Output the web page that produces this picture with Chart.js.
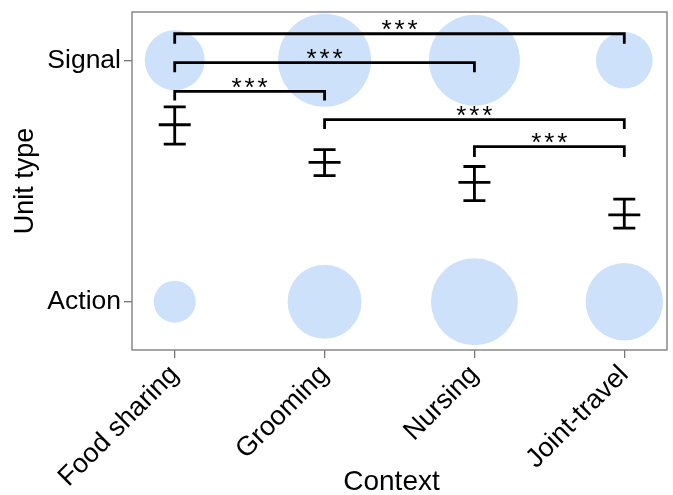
<!DOCTYPE html>
<html>
<head>
<meta charset="utf-8">
<script src="https://cdn.jsdelivr.net/npm/chart.js@4/dist/chart.umd.min.js"></script>
<style>
  html, body { margin: 0; padding: 0; background: #fff; }
  #wrap { width: 673px; height: 495px; }
</style>
</head>
<body>
<div id="wrap"><canvas id="chart" width="673" height="495"></canvas></div>
<script>
// Contexts along the x axis and unit types along the y axis (Action = 0, Signal = 1)
const contexts = ['Food sharing', 'Grooming', 'Nursing', 'Joint-travel'];
const unitTypes = ['Action', 'Signal'];

// Bubble sizes (radius, px) for each context
const signalSize = [30, 46.5, 45.5, 28.3];
const actionSize = [21, 37, 43.5, 38.7];

// Mean position with lower / upper error limits per context
const meanValue  = [0.733, 0.577, 0.494, 0.360];
const lowerValue = [0.653, 0.522, 0.419, 0.305];
const upperValue = [0.807, 0.630, 0.560, 0.425];

// Pairwise comparisons: from / to context index, bar height, leg tip, label
const bracketFrom  = [0, 0, 0, 1, 2];
const bracketTo    = [3, 2, 1, 3, 3];
const bracketTop   = [1.110, 0.990, 0.871, 0.754, 0.642];
const bracketTip   = [1.069, 0.950, 0.833, 0.715, 0.599];
const bracketLabel = ['***', '***', '***', '***', '***'];

const FONT = "'Liberation Sans', Arial, sans-serif";
Chart.defaults.font.family = FONT;
Chart.defaults.color = '#000';

const bubbleColor = 'rgb(206,225,251)';

const datasets = [];

// comparison brackets
bracketFrom.forEach((f, i) => {
  const t = bracketTo[i];
  datasets.push({
    type: 'line',
    data: [
      { x: f, y: bracketTip[i] },
      { x: f, y: bracketTop[i] },
      { x: t, y: bracketTop[i] },
      { x: t, y: bracketTip[i] }
    ],
    borderColor: '#000',
    borderWidth: 2.8,
    borderJoinStyle: 'miter',
    borderCapStyle: 'butt',
    pointRadius: 0,
    fill: false,
    tension: 0,
    clip: false,
    order: 0
  });
});

// bubbles for signal and action rows
datasets.push({
  type: 'bubble',
  data: contexts.map((c, i) => ({ x: i, y: 1, r: signalSize[i] })),
  backgroundColor: bubbleColor,
  borderWidth: 0,
  hoverRadius: 0,
  clip: false,
  order: 10
});
datasets.push({
  type: 'bubble',
  data: contexts.map((c, i) => ({ x: i, y: 0, r: actionSize[i] })),
  backgroundColor: bubbleColor,
  borderWidth: 0,
  hoverRadius: 0,
  clip: false,
  order: 10
});

// Frame, error bars, significance labels and x-axis title
const overlay = {
  id: 'overlay',
  afterDatasetsDraw(chart) {
    const { ctx, chartArea: a, scales: { x, y } } = chart;
    ctx.save();
    // error bars
    ctx.strokeStyle = '#000';
    ctx.lineWidth = 2.8;
    ctx.lineCap = 'butt';
    meanValue.forEach((m, i) => {
      const px = x.getPixelForValue(i);
      const lo = y.getPixelForValue(lowerValue[i]);
      const hi = y.getPixelForValue(upperValue[i]);
      const mid = y.getPixelForValue(m);
      ctx.beginPath();
      ctx.moveTo(px, lo); ctx.lineTo(px, hi);
      ctx.moveTo(px - 11, lo); ctx.lineTo(px + 11, lo);
      ctx.moveTo(px - 11, hi); ctx.lineTo(px + 11, hi);
      ctx.moveTo(px - 16, mid); ctx.lineTo(px + 16, mid);
      ctx.stroke();
    });
    // significance stars
    ctx.fillStyle = '#000';
    ctx.font = "26px " + FONT;
    ctx.textAlign = 'center';
    ctx.textBaseline = 'alphabetic';
    bracketLabel.forEach((lab, i) => {
      const cx = (x.getPixelForValue(bracketFrom[i]) + x.getPixelForValue(bracketTo[i])) / 2;
      const ty = y.getPixelForValue(bracketTop[i]);
      const chars = lab.split('');
      chars.forEach((ch, k) => {
        ctx.fillText(ch, cx + (k - (chars.length - 1) / 2) * 13, ty + 4.5);
      });
    });
    // frame
    ctx.strokeStyle = '#808080';
    ctx.lineWidth = 1.4;
    ctx.strokeRect(a.left, a.top, a.right - a.left, a.bottom - a.top);
    // x-axis title
    ctx.font = "28px " + FONT;
    ctx.fillText('Context', (a.left + a.right) / 2 - 8, 490);
    ctx.restore();
  }
};

new Chart(document.getElementById('chart'), {
  data: { datasets },
  options: {
    responsive: false,
    animation: false,
    events: [],
    layout: { autoPadding: false, padding: { top: 12, right: 6, left: 0, bottom: 0 } },
    plugins: { legend: { display: false }, tooltip: { enabled: false } },
    scales: {
      x: {
        type: 'linear',
        min: -0.285,
        max: 3.285,
        afterBuildTicks: s => { s.ticks = contexts.map((c, i) => ({ value: i })); },
        afterFit: s => { s.height = 145; s.paddingLeft = 0; s.paddingRight = 0; },
        ticks: {
          autoSkip: false,
          minRotation: 45,
          maxRotation: 45,
          padding: 1,
          font: { size: 27 },
          color: '#000',
          callback: v => contexts[v]
        },
        grid: { drawOnChartArea: false, drawTicks: true, tickLength: 8, color: '#777', lineWidth: 1.3 },
        border: { display: false },
        title: { display: false }
      },
      y: {
        type: 'linear',
        min: -0.2,
        max: 1.2,
        afterBuildTicks: s => { s.ticks = unitTypes.map((u, i) => ({ value: i })); },
        afterFit: s => { s.width = 132; s.paddingTop = 0; s.paddingBottom = 0; },
        ticks: {
          padding: 3,
          font: { size: 26.5 },
          color: '#000',
          callback: v => unitTypes[v]
        },
        grid: { drawOnChartArea: false, drawTicks: true, tickLength: 8, color: '#777', lineWidth: 1.3 },
        border: { display: false },
        title: { display: true, text: 'Unit type', font: { size: 27 }, color: '#000', padding: { top: 9, bottom: 0 } }
      }
    }
  },
  plugins: [overlay]
});
</script>
</body>
</html>
